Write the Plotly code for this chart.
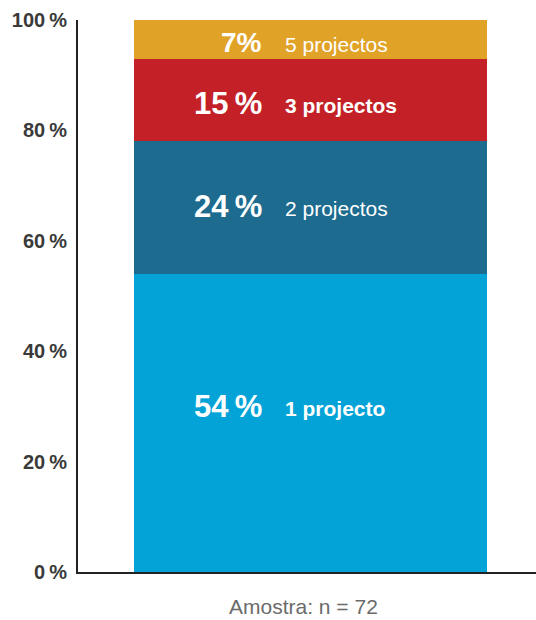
import plotly.graph_objects as go

# Distribution of respondents by number of projects (single stacked bar)
categories = ["1 projecto", "2 projectos", "3 projectos", "5 projectos"]
shares = [54, 24, 15, 7]
colors = ["#04A3D7", "#1D6B8F", "#C42027", "#E1A228"]
bold_label = [True, False, True, False]
tick_values = [0, 20, 40, 60, 80, 100]
tick_labels = ["0\u2009%", "20\u2009%", "40\u2009%", "60\u2009%", "80\u2009%", "100\u2009%"]
sample_note = "Amostra: n = 72"

FONT = "Liberation Sans, Arial, Helvetica, sans-serif"

fig = go.Figure()
for cat, val, col in zip(categories, shares, colors):
    fig.add_trace(go.Bar(
        x=[0], y=[val], name=cat, width=0.8,
        marker=dict(color=col, line=dict(width=0)),
        hoverinfo="skip", showlegend=False,
    ))

annotations = []
base = 0
for i, (cat, val) in enumerate(zip(categories, shares)):
    mid = base + val / 2
    base += val
    yshift = 16 if i == 0 else (-3 if i >= 2 else 1)
    pct_size = 28 if val < 10 else 31
    pct_text = f"{val}%" if val < 10 else f"{val}\u2009%"
    annotations.append(dict(
        x=-0.106, y=mid, xref="x", yref="y", text=f"<b>{pct_text}</b>",
        showarrow=False, xanchor="right", yanchor="middle", yshift=yshift,
        font=dict(family=FONT, size=pct_size, color="white"),
    ))
    label = f"<b>{cat}</b>" if bold_label[i] else cat
    annotations.append(dict(
        x=-0.062, y=mid, xref="x", yref="y", text=label,
        showarrow=False, xanchor="left", yanchor="middle", yshift=yshift - 2,
        font=dict(family=FONT, size=21, color="white"),
    ))

annotations.append(dict(
    x=-0.015, y=0, xref="x", yref="paper", text=sample_note,
    showarrow=False, xanchor="center", yanchor="top", yshift=-22,
    borderpad=0,
    font=dict(family=FONT, size=21, color="#6b6b6b"),
))

fig.update_layout(
    barmode="stack",
    width=536, height=620,
    margin=dict(l=78, r=0, t=20, b=48),
    paper_bgcolor="white", plot_bgcolor="white",
    annotations=annotations,
    xaxis=dict(
        range=[-0.527, 0.511], showgrid=False, zeroline=False,
        showline=True, linecolor="#222222", linewidth=2,
        showticklabels=False, ticks="", fixedrange=True,
    ),
    yaxis=dict(
        range=[0, 100], showgrid=False, zeroline=False,
        showline=True, linecolor="#222222", linewidth=2,
        tickvals=tick_values, ticktext=[f"<b>{t}</b>" for t in tick_labels],
        ticks="", ticklabelstandoff=5,
        tickfont=dict(family=FONT, size=20, color="#3a3a3a"),
        fixedrange=True,
    ),
)

fig.write_html("out.html")
